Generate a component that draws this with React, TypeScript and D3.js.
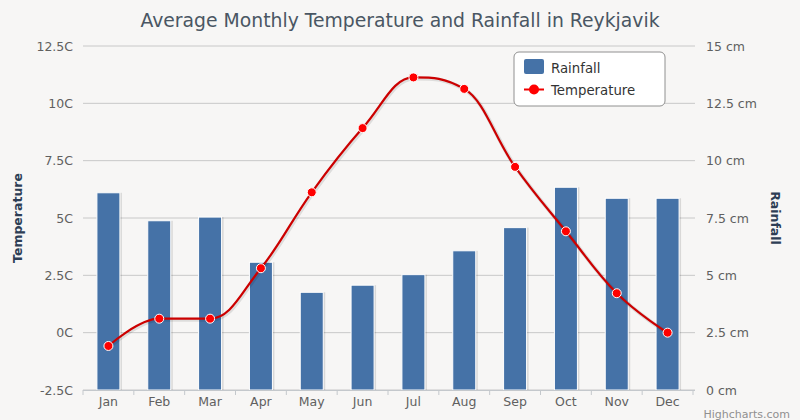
import React from "react";
import * as d3 from "d3";

const months = ["Jan", "Feb", "Mar", "Apr", "May", "Jun", "Jul", "Aug", "Sep", "Oct", "Nov", "Dec"];
const rainfall = [8.6, 7.38, 7.54, 5.57, 4.26, 4.57, 5.03, 6.07, 7.08, 8.84, 8.36, 8.36];
const temperature = [-0.58, 0.61, 0.61, 2.81, 6.12, 8.92, 11.13, 10.63, 7.23, 4.42, 1.72, 0.0];
const tempTicks = [-2.5, 0, 2.5, 5, 7.5, 10, 12.5];
const rainTicks = [0, 2.5, 5, 7.5, 10, 12.5, 15];
const title = "Average Monthly Temperature and Rainfall in Reykjavik";

const W = 800, H = 420;
const left = 83, right = 693, top = 46, bottom = 390;
const FONT = "'DejaVu Sans', 'Open Sans', sans-serif";

function splinePath(pts: [number, number][]) {
  const smoothing = 1.5, denom = 2.5;
  const ctrl = pts.map((p, i) => {
    if (i === 0 || i === pts.length - 1) return null;
    const [x, y] = p;
    const [lx, ly] = pts[i - 1];
    const [nx, ny] = pts[i + 1];
    const lcx = (smoothing * x + lx) / denom;
    let lcy = (smoothing * y + ly) / denom;
    const rcx = (smoothing * x + nx) / denom;
    let rcy = (smoothing * y + ny) / denom;
    let corr = 0;
    if (rcx !== lcx) corr = ((rcy - lcy) * (rcx - x)) / (rcx - lcx) + y - rcy;
    lcy += corr;
    rcy += corr;
    if (lcy > ly && lcy > y) { lcy = Math.max(ly, y); rcy = 2 * y - lcy; }
    else if (lcy < ly && lcy < y) { lcy = Math.min(ly, y); rcy = 2 * y - lcy; }
    if (rcy > ny && rcy > y) { rcy = Math.max(ny, y); lcy = 2 * y - rcy; }
    else if (rcy < ny && rcy < y) { rcy = Math.min(ny, y); lcy = 2 * y - rcy; }
    return { lcx, lcy, rcx, rcy };
  });
  let d = `M${pts[0][0]},${pts[0][1]}`;
  for (let i = 1; i < pts.length; i++) {
    const a = ctrl[i - 1], b = ctrl[i];
    const c1x = a ? a.rcx : pts[i - 1][0], c1y = a ? a.rcy : pts[i - 1][1];
    const c2x = b ? b.lcx : pts[i][0], c2y = b ? b.lcy : pts[i][1];
    d += `C${c1x},${c1y},${c2x},${c2y},${pts[i][0]},${pts[i][1]}`;
  }
  return d;
}

export default function App() {
  const x = d3.scaleBand<string>().domain(months).range([left, right]).padding(0);
  const yT = d3.scaleLinear().domain([-2.5, 12.5]).range([bottom, top]);
  const yR = d3.scaleLinear().domain([0, 15]).range([bottom, top]);
  const bw = x.bandwidth();
  const barW = 23;
  const cx = (m: string) => (x(m) as number) + bw / 2;
  const pts: [number, number][] = months.map((m, i) => [cx(m), yT(temperature[i])]);
  const path = splinePath(pts);
  const boundaries = d3.range(months.length + 1).map((i) => left + i * bw);

  return (
    <svg width={W} height={H} style={{ position: "absolute", left: 0, top: 0 }} fontFamily={FONT}>
      <rect x={0} y={0} width={W} height={H} fill="#f7f6f5" />
      <text x={W / 2} y={27} textAnchor="middle" fontSize={18.8} fill="#4a5663">{title}</text>

      {tempTicks.map((t) => (
        <g key={"g" + t}>
          <line x1={left} x2={right + 2} y1={yT(t)} y2={yT(t)} stroke="#c8c8c8" strokeWidth={1} />
          <text x={73} y={yT(t) + 4.5} textAnchor="end" fontSize={12.5} fill="#606060">{`${t}C`}</text>
        </g>
      ))}
      {rainTicks.map((t) => (
        <text key={"r" + t} x={706} y={yR(t) + 4.5} textAnchor="start" fontSize={12.5} fill="#606060">{`${t} cm`}</text>
      ))}

      <text transform={`translate(22,${(top + bottom) / 2}) rotate(-90)`} textAnchor="middle" fontSize={12.5} fontWeight="bold" fill="#2e3e55">Temperature</text>
      <text transform={`translate(771,${(top + bottom) / 2}) rotate(90)`} textAnchor="middle" fontSize={12.5} fontWeight="bold" fill="#2e3e55">Rainfall</text>

      {months.map((m, i) => {
        const bx = cx(m) - barW / 2;
        const by = yR(rainfall[i]);
        return (
          <g key={"b" + m}>
            <rect x={bx + 1} y={by + 1} width={barW} height={bottom - by - 1} fill="none" stroke="#000" strokeOpacity={0.12} strokeWidth={2} />
            <rect x={bx} y={by} width={barW} height={bottom - by} fill="#4572a7" stroke="#ffffff" strokeWidth={1} />
          </g>
        );
      })}

      <line x1={left} x2={right + 2} y1={bottom + 0.5} y2={bottom + 0.5} stroke="#c4c8cc" strokeWidth={1} />
      {boundaries.map((b, i) => (
        <line key={"t" + i} x1={b} x2={b} y1={bottom} y2={bottom + 5} stroke="#c4c8cc" strokeWidth={1} />
      ))}
      {months.map((m) => (
        <text key={"l" + m} x={cx(m)} y={406} textAnchor="middle" fontSize={12.5} fill="#606060">{m}</text>
      ))}

      <path d={path} transform="translate(1,1)" fill="none" stroke="#000" strokeOpacity={0.1} strokeWidth={4} />
      <path d={path} fill="none" stroke="#cc0000" strokeWidth={2.2} />
      {pts.map(([px, py], i) => (
        <circle key={"c" + i} cx={px} cy={py} r={4.5} fill="#ff0000" stroke="#ffffff" strokeWidth={1} />
      ))}

      <g>
        <rect x={514} y={52} width={151} height={54} rx={5} fill="#ffffff" stroke="#909090" strokeWidth={1} />
        <rect x={524} y={59} width={20} height={15} rx={2} fill="#4572a7" />
        <text x={551} y={72.5} fontSize={13.3} fill="#333">Rainfall</text>
        <line x1={524} x2={544} y1={89.5} y2={89.5} stroke="#ee0000" strokeWidth={2} />
        <circle cx={534} cy={89.5} r={5} fill="#ff0000" />
        <text x={551} y={94.5} fontSize={13.3} fill="#333">Temperature</text>
      </g>

      <text x={790} y={418} textAnchor="end" fontSize={11} fill="#909090">Highcharts.com</text>
    </svg>
  );
}
